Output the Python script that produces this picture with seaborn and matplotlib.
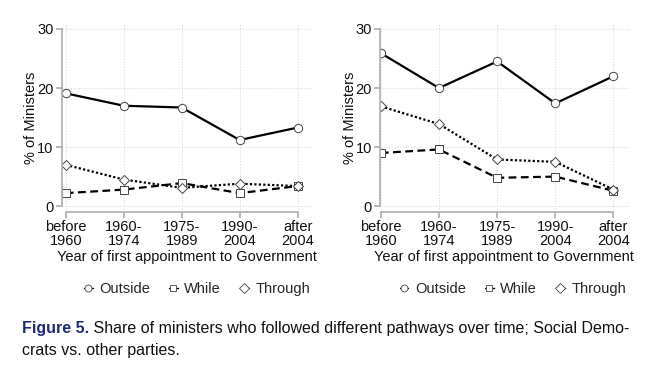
import numpy as np
import pandas as pd
import matplotlib
matplotlib.use("Agg")
import matplotlib.pyplot as plt
import seaborn as sns
from matplotlib.lines import Line2D

# -------------- Data --------------
periods = ["before\n1960", "1960-\n1974", "1975-\n1989", "1990-\n2004", "after\n2004"]

sd_outside = [19.1, 17.0, 16.7, 11.2, 13.3]
sd_while = [2.2, 2.8, 3.9, 2.2, 3.4]
sd_through = [7.0, 4.5, 3.1, 3.8, 3.4]

op_outside = [25.9, 20.0, 24.5, 17.4, 22.0]
op_while = [9.0, 9.6, 4.8, 5.0, 2.6]
op_through = [16.9, 13.9, 7.9, 7.5, 2.8]

series_names = ["Outside", "While", "Through"]
caption_bold = "Figure 5."
caption_rest = " Share of ministers who followed different pathways over time; Social Demo-"
caption_line2 = "crats vs. other parties."

sns.set_theme(style="white")
plt.rcParams["font.family"] = ["Liberation Sans", "DejaVu Sans"]

styles = {
    "Outside": dict(linestyle="-", marker="o"),
    "While": dict(linestyle=(0, (3.5, 2)), marker="s"),
    "Through": dict(linestyle=(0, (1, 1)), marker="D"),
}
msizes = {"Outside": 6, "While": 5.5, "Through": 5.2}

fig = plt.figure(figsize=(6.5, 3.72), dpi=100)
ax1 = fig.add_axes([0.095, 0.430, 0.386, 0.508])
ax2 = fig.add_axes([0.585, 0.430, 0.382, 0.508])

pos = np.arange(len(periods))
gray = "#b0b0b0"

for ax, vals, xlo in [(ax1, [sd_outside, sd_while, sd_through], -0.07),
                      (ax2, [op_outside, op_while, op_through], -0.01)]:
    for name, v in zip(series_names, vals):
        st = styles[name]
        sns.lineplot(x=pos, y=v, ax=ax, color="black", linewidth=1.6,
                     linestyle=st["linestyle"], marker=st["marker"],
                     markersize=msizes[name], markerfacecolor="white",
                     markeredgecolor="#444444", markeredgewidth=0.7)
    ax.set_xlim(xlo, 4.26)
    ax.set_ylim(-1, 31)
    ax.set_xticks(pos)
    ax.set_xticklabels(periods, fontsize=10.5, linespacing=1.0)
    ax.set_yticks([0, 10, 20, 30])
    ax.set_yticklabels(["0", "10", "20", "30"], fontsize=10.5)
    for y in [0, 10, 20, 30]:
        ax.axhline(y, color="#dcdcdc", linestyle=(0, (1, 1.5)), linewidth=0.8, zorder=0)
    for x in pos:
        ax.axvline(x, color="#dcdcdc", linestyle=(0, (1, 1.5)), linewidth=0.8, zorder=0)
    for s in ["top", "right"]:
        ax.spines[s].set_visible(False)
    ax.spines["left"].set_color(gray)
    ax.spines["bottom"].set_color(gray)
    ax.spines["left"].set_bounds(0, 30)
    ax.spines["bottom"].set_bounds(0, 4)
    ax.tick_params(axis="both", which="both", length=4, color=gray, pad=2,
                   bottom=True, left=True, labelcolor="#111111")
    ax.set_xlabel("Year of first appointment to Government", fontsize=10.5,
                  labelpad=1, color="#111111")
    ax.set_ylabel("% of Ministers", fontsize=10.5, labelpad=-1, color="#111111")

handles = []
for name in series_names:
    st = styles[name]
    handles.append(Line2D([0], [0], color="black", linewidth=1.0, linestyle="-",
                          marker=st["marker"], markersize=5, markerfacecolor="white",
                          markeredgecolor="#444444", markeredgewidth=0.6))

for cx in [0.303, 0.789]:
    fig.legend(handles, series_names, loc="center", bbox_to_anchor=(cx, 0.223),
               ncol=3, frameon=False, fontsize=10.5, handlelength=0.6,
               handletextpad=0.45, columnspacing=1.3)

cap_font = ["Liberation Sans Narrow", "Liberation Sans", "DejaVu Sans"]
t = fig.text(0.034, 0.118, caption_bold, fontsize=11.5, color="#1f2a7a",
             fontweight="bold", family=cap_font, va="center")
fig.canvas.draw()
bb = t.get_window_extent()
fig.text(bb.x1 / fig.bbox.width, 0.118, caption_rest, fontsize=11.5,
         color="#111111", family=cap_font, va="center")
fig.text(0.034, 0.058, caption_line2, fontsize=11.5, color="#111111",
         family=cap_font, va="center")

fig.savefig("out.png", dpi=100, facecolor="white")
